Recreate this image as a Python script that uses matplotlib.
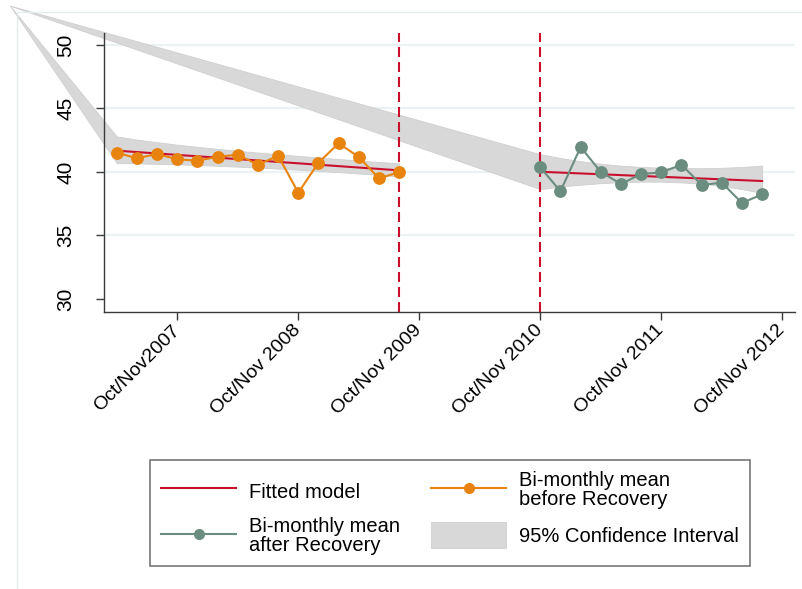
import matplotlib
matplotlib.use('Agg')
import matplotlib.pyplot as plt
from matplotlib.lines import Line2D
from matplotlib.patches import Patch

plt.rcParams['font.family'] = ['Liberation Sans', 'DejaVu Sans']

# time axis: bi-monthly periods, 0 = Oct/Nov 2007
t_pre = list(range(-3, 12))
mean_pre = [41.52, 41.08, 41.42, 41.00, 40.89, 41.20, 41.36, 40.57, 41.28,
            38.37, 40.73, 42.26, 41.18, 39.50, 39.98]
t_post = list(range(18, 30))
mean_post = [40.37, 38.48, 41.97, 40.00, 39.06, 39.84, 39.97, 40.57, 38.98,
             39.16, 37.56, 38.24]

fit_pre_t = [-3, 11]
fit_pre = [41.68, 40.13]
fit_post_t = [18, 29]
fit_post = [40.02, 39.29]

# confidence band (the first value is a stray anchor point left of the axis)
ci_pre_t = [-8.3] + t_pre
ci_pre_hi = [53.1, 42.80, 42.55, 42.35, 42.15, 41.98, 41.82, 41.67, 41.53,
             41.40, 41.27, 41.14, 41.02, 40.90, 40.79, 40.68]
ci_pre_lo = [53.1, 40.70, 40.68, 40.64, 40.60, 40.55, 40.49, 40.42, 40.35,
             40.27, 40.18, 40.09, 39.99, 39.88, 39.77, 39.65]
ci_post_t = [-8.3] + t_post
ci_post_hi = [53.1, 41.40, 41.10, 40.85, 40.65, 40.50, 40.40, 40.34, 40.31,
              40.30, 40.33, 40.40, 40.50]
ci_post_lo = [53.1, 38.65, 38.85, 39.00, 39.12, 39.20, 39.24, 39.24, 39.18,
              39.08, 38.90, 38.65, 38.35]

period_marks = [11, 18]
xticks = [0, 6, 12, 18, 24, 30]
xticklabels = ["Oct/Nov2007", "Oct/Nov 2008", "Oct/Nov 2009",
               "Oct/Nov 2010", "Oct/Nov 2011", "Oct/Nov 2012"]
yticks = [30, 35, 40, 45, 50]

RED = '#C8102E'
ORANGE = '#E8830E'
GREEN = '#6B8D7F'
BAND = '#D8D8D8'
FS = 14.5

W, H = 803, 589
fig = plt.figure(figsize=(W / 100, H / 100), dpi=100)
fig.patch.set_facecolor('white')

# faint outer graph-region border
fig.add_artist(Line2D([17 / W, 17 / W, 1], [0, 1 - 12 / H, 1 - 12 / H],
                      transform=fig.transFigure, color='#E3ECEF', lw=1.0))

ax = fig.add_axes([104 / W, 1 - 312 / H, (795 - 104) / W, (312 - 33) / H])
ax.set_xlim(-3.635, 30.63)
ax.set_ylim(28.976, 50.945)

# grid
ax.set_yticks(yticks)
ax.yaxis.grid(True, color='#EAF2F3', lw=1.6)
ax.set_axisbelow(True)
for gl, v in zip(ax.yaxis.get_gridlines(), yticks):
    gl.set_visible(v != 30)

# confidence bands
ax.fill_between(ci_pre_t, ci_pre_lo, ci_pre_hi, facecolor=BAND,
                edgecolor='#CFCFCF', lw=0.6, clip_on=False, zorder=1.5)
ax.fill_between(ci_post_t, ci_post_lo, ci_post_hi, facecolor=BAND,
                edgecolor='#CFCFCF', lw=0.6, clip_on=False, zorder=1.5)

# dashed period lines
for m in period_marks:
    ax.axvline(m, color=RED, lw=1.5, dashes=(4.8, 2.4), zorder=2)

# fitted model
ax.plot(fit_pre_t, fit_pre, color=RED, lw=1.5, zorder=3)
ax.plot(fit_post_t, fit_post, color=RED, lw=1.5, zorder=3)

# bi-monthly means
ax.plot(t_pre, mean_pre, color=ORANGE, lw=1.5, marker='o', ms=8.2, zorder=4)
ax.plot(t_post, mean_post, color=GREEN, lw=1.5, marker='o', ms=8.2, zorder=4)

# axes styling
for s in ['top', 'right']:
    ax.spines[s].set_visible(False)
for s in ['left', 'bottom']:
    ax.spines[s].set_color('#3A3A3A')
    ax.spines[s].set_linewidth(1.0)
ax.set_xticks(xticks)
ax.set_xticklabels(xticklabels, rotation=45, ha='right', va='center',
                   rotation_mode='anchor', fontsize=14)
ax.set_yticklabels([str(v) for v in yticks], rotation=90, va='center',
                   fontsize=FS + 0.5)
ax.tick_params(axis='x', length=5.5, width=1.0, color='#3A3A3A', pad=6)
ax.tick_params(axis='y', length=5.5, width=1.0, color='#3A3A3A', pad=15)

# legend
handles = [
    Line2D([], [], color=RED, lw=1.5),
    Line2D([], [], color=GREEN, lw=1.5, marker='o', ms=7),
    Line2D([], [], color=ORANGE, lw=1.5, marker='o', ms=7),
    Patch(facecolor=BAND, edgecolor='#CFCFCF', lw=0.6),
]
labels = ["Fitted model", "Bi-monthly mean\nafter Recovery",
          "Bi-monthly mean\nbefore Recovery", "95% Confidence Interval"]
leg = fig.legend(handles, labels, ncol=2, loc='center',
                 bbox_to_anchor=(450 / W, 1 - 513 / H), fontsize=FS,
                 frameon=True, fancybox=False, edgecolor='#555555',
                 handlelength=3.72, handleheight=1.6, handletextpad=0.65,
                 columnspacing=1.54, borderpad=0.55, labelspacing=0.65)
leg.get_frame().set_linewidth(1.2)
for t in leg.get_texts():
    t.set_linespacing(1.0)

fig.savefig('out.png', dpi=100, facecolor='white')
